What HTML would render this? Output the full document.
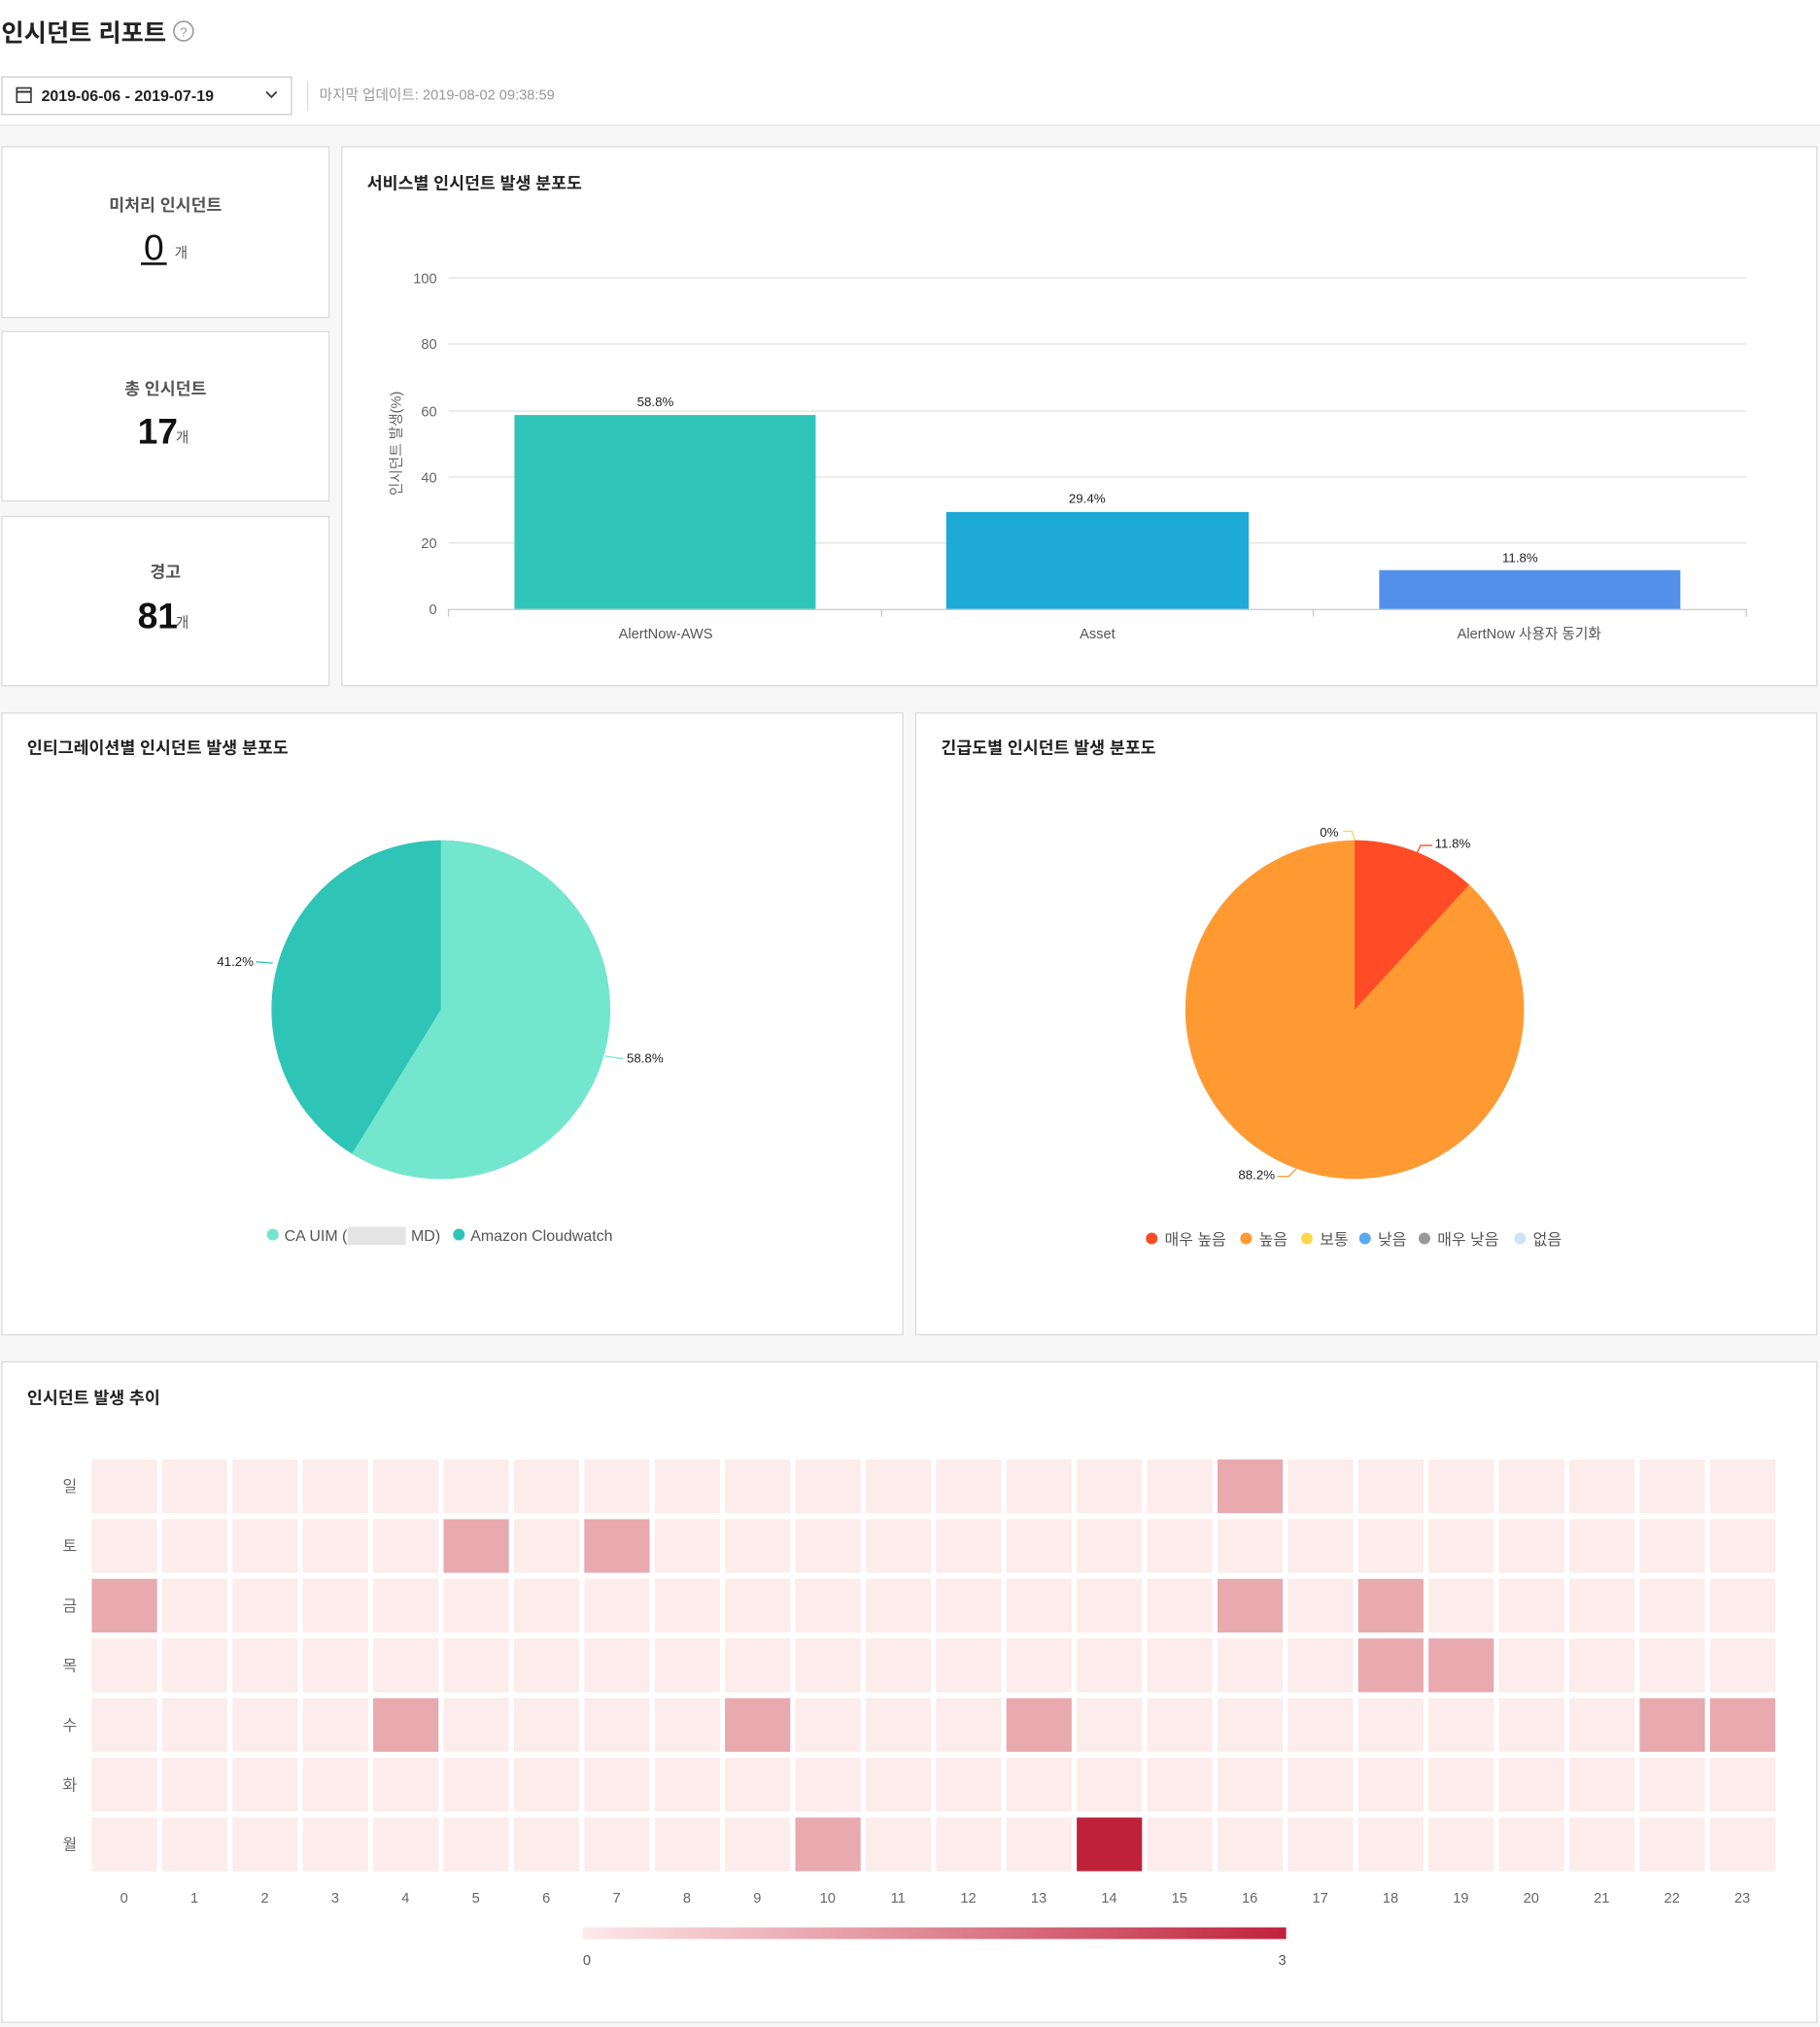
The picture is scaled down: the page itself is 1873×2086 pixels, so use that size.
<!DOCTYPE html>
<html><head><meta charset="utf-8"><style>
html,body{margin:0;padding:0;background:#fff;}
svg{display:block;font-family:"Liberation Sans","Noto Sans CJK KR",sans-serif;}
</style></head><body>
<svg width="1873" height="2086" viewBox="0 0 1408 1568" xmlns="http://www.w3.org/2000/svg">
<rect x="0" y="0" width="1408" height="1568" fill="#fff"/>
<rect x="0" y="97" width="1408" height="1471" fill="#f7f7f7"/>
<line x1="0" y1="97" x2="1408" y2="97" stroke="#e6e6e6"/>
<!-- header -->
<text x="1" y="32" font-size="19" font-weight="bold" fill="#222">인시던트 리포트</text>
<circle cx="142" cy="24" r="7.5" fill="none" stroke="#999" stroke-width="1.2"/>
<text x="142" y="28" font-size="10" fill="#999" text-anchor="middle">?</text>
<rect x="1.5" y="59.5" width="224" height="29" fill="#fff" stroke="#ccc"/>
<rect x="13" y="68" width="11" height="11" fill="none" stroke="#333" stroke-width="1.2"/>
<line x1="13" y1="71" x2="24" y2="71" stroke="#333" stroke-width="1.5"/>
<text x="32" y="78" font-size="12" font-weight="bold" fill="#222">2019-06-06 - 2019-07-19</text>
<polyline points="206,71 210,75 214,71" fill="none" stroke="#333" stroke-width="1.3"/>
<line x1="238" y1="63" x2="238" y2="86" stroke="#ddd"/>
<text x="247" y="77" font-size="11" fill="#999">마지막 업데이트: 2019-08-02 09:38:59</text>
<!-- stat cards -->
<g fill="#fff" stroke="#dcdcdc">
<rect x="1.5" y="113.5" width="253" height="132"/>
<rect x="1.5" y="256.5" width="253" height="131"/>
<rect x="1.5" y="399.5" width="253" height="131"/>
<rect x="264.5" y="113.5" width="1141" height="417"/>
<rect x="1.5" y="551.5" width="697" height="481"/>
<rect x="708.5" y="551.5" width="697" height="481"/>
<rect x="1.5" y="1053.5" width="1404" height="511"/>
</g>
<g text-anchor="middle" fill="#555" font-size="13" font-weight="bold">
<text x="128" y="163">미처리 인시던트</text>
<text x="128" y="305">총 인시던트</text>
<text x="128" y="447">경고</text>
</g>
<text x="119" y="201" font-size="28" fill="#111" text-anchor="middle">0</text>
<line x1="109" y1="204" x2="129" y2="204" stroke="#111" stroke-width="2"/>
<text x="135" y="199" font-size="11" fill="#555">개</text>
<text x="122" y="343" font-size="28" font-weight="bold" fill="#111" text-anchor="middle">17</text>
<text x="136" y="342" font-size="11" fill="#555">개</text>
<text x="122" y="486" font-size="28" font-weight="bold" fill="#111" text-anchor="middle">81</text>
<text x="136" y="485" font-size="11" fill="#555">개</text>
<!-- bar chart -->
<text x="284" y="146" font-size="13" font-weight="bold" fill="#222">서비스별 인시던트 발생 분포도</text>
<g stroke="#e3e3e3">
<line x1="347" y1="215" x2="1351" y2="215"/>
<line x1="347" y1="266" x2="1351" y2="266"/>
<line x1="347" y1="318" x2="1351" y2="318"/>
<line x1="347" y1="369" x2="1351" y2="369"/>
<line x1="347" y1="420" x2="1351" y2="420"/>
</g>
<line x1="347" y1="471.5" x2="1351" y2="471.5" stroke="#ccc"/>
<g stroke="#ccc"><line x1="347" y1="471" x2="347" y2="477"/><line x1="682" y1="471" x2="682" y2="477"/><line x1="1016" y1="471" x2="1016" y2="477"/><line x1="1351" y1="471" x2="1351" y2="477"/></g>
<g font-size="11" fill="#666" text-anchor="end">
<text x="338" y="219">100</text><text x="338" y="270">80</text><text x="338" y="322">60</text>
<text x="338" y="373">40</text><text x="338" y="424">20</text><text x="338" y="475">0</text>
</g>
<text transform="translate(310,343) rotate(-90)" font-size="11" fill="#666" text-anchor="middle">인시던트 발생(%)</text>
<rect x="398" y="321" width="233" height="150" fill="#2fc5b9"/>
<rect x="732" y="396" width="234" height="75" fill="#1daad6"/>
<rect x="1067" y="441" width="233" height="30" fill="#5290ec"/>
<g font-size="10" fill="#222" text-anchor="middle">
<text x="507" y="314">58.8%</text><text x="841" y="389">29.4%</text><text x="1176" y="435">11.8%</text>
</g>
<g font-size="11" fill="#555" text-anchor="middle">
<text x="515" y="494">AlertNow-AWS</text><text x="849" y="494">Asset</text><text x="1183" y="494">AlertNow 사용자 동기화</text>
</g>
<!-- pie 1 -->
<text x="21" y="583" font-size="13" font-weight="bold" fill="#222">인티그레이션별 인시던트 발생 분포도</text>
<circle cx="341" cy="781" r="131" fill="#2ec4b6"/>
<path d="M341,781 L341,650 A131,131 0 1,1 272.2,892.5 Z" fill="#73e6ce"/>
<polyline points="211,745 198,744" fill="none" stroke="#2ec4b6"/>
<polyline points="468,817 482,819" fill="none" stroke="#73e6ce"/>
<text x="182" y="747" font-size="10" fill="#222" text-anchor="middle">41.2%</text>
<text x="499" y="822" font-size="10" fill="#222" text-anchor="middle">58.8%</text>
<circle cx="211" cy="955" r="4.5" fill="#73e6ce"/>
<text x="220" y="960" font-size="12" fill="#555">CA UIM (</text>
<rect x="269" y="949" width="45" height="14" fill="#e4e4e4"/>
<text x="318" y="960" font-size="12" fill="#555">MD)</text>
<circle cx="355" cy="955" r="4.5" fill="#2ec4b6"/>
<text x="364" y="960" font-size="12" fill="#555">Amazon Cloudwatch</text>
<!-- pie 2 -->
<text x="728" y="583" font-size="13" font-weight="bold" fill="#222">긴급도별 인시던트 발생 분포도</text>
<circle cx="1048" cy="781" r="131" fill="#ff9a33"/>
<path d="M1048,781 L1048,650 A131,131 0 0,1 1136.5,684.4 Z" fill="#ff4b26"/>
<polyline points="1048,650 1046,643 1039,643" fill="none" stroke="#ffd64a"/>
<polyline points="1093,666 1099,654 1108,654" fill="none" stroke="#ff4b26"/>
<polyline points="1003,904 997,910 988,910" fill="none" stroke="#ff9a33"/>
<g font-size="10" fill="#222">
<text x="1021" y="647">0%</text><text x="1110" y="656">11.8%</text><text x="958" y="912">88.2%</text>
</g>
<g font-size="12" fill="#555">
<circle cx="891" cy="958" r="4.5" fill="#ff4b26"/><text x="901" y="963">매우 높음</text>
<circle cx="964" cy="958" r="4.5" fill="#ff9a33"/><text x="974" y="963">높음</text>
<circle cx="1011" cy="958" r="4.5" fill="#ffd64a"/><text x="1021" y="963">보통</text>
<circle cx="1056" cy="958" r="4.5" fill="#5aa9f0"/><text x="1066" y="963">낮음</text>
<circle cx="1102" cy="958" r="4.5" fill="#999"/><text x="1112" y="963">매우 낮음</text>
<circle cx="1176" cy="958" r="4.5" fill="#cfe3f5"/><text x="1186" y="963">없음</text>
</g>
<!-- heatmap -->
<text x="21" y="1086" font-size="13" font-weight="bold" fill="#222">인시던트 발생 추이</text>
<g id="hm"></g>
<defs><linearGradient id="g" x1="0" x2="1"><stop offset="0" stop-color="#fde9ea"/><stop offset="1" stop-color="#c0213a"/></linearGradient></defs>
<rect x="451" y="1491" width="544" height="9" fill="url(#g)"/>
<text x="454" y="1520" font-size="11" fill="#555" text-anchor="middle">0</text>
<text x="992" y="1520" font-size="11" fill="#555" text-anchor="middle">3</text>
<script>
(function(){
var ns="http://www.w3.org/2000/svg",g=document.getElementById("hm");
var days=["일","토","금","목","수","화","월"];
var med={"0":[16],"1":[5,7],"2":[0,16,18],"3":[18,19],"4":[4,9,13,22,23],"5":[],"6":[10]};
for(var r=0;r<7;r++){
 var y=1129+r*46.17;
 var t=document.createElementNS(ns,"text");t.setAttribute("x",54);t.setAttribute("y",y+25);
 t.setAttribute("font-size","12");t.setAttribute("fill","#666");t.setAttribute("text-anchor","middle");t.textContent=days[r];g.appendChild(t);
 for(var c=0;c<24;c++){
  var x=71+c*54.43,col="#fdecec";
  if(med[r].indexOf(c)>=0)col="#e8a9af";
  if(r==6&&c==14)col="#c0213a";
  var e=document.createElementNS(ns,"rect");e.setAttribute("x",x);e.setAttribute("y",y);
  e.setAttribute("width",50.5);e.setAttribute("height",41.5);e.setAttribute("fill",col);g.appendChild(e);
 }
}
for(var c=0;c<24;c++){
 var t=document.createElementNS(ns,"text");t.setAttribute("x",96+c*54.43);t.setAttribute("y",1472);
 t.setAttribute("font-size","11");t.setAttribute("fill","#666");t.setAttribute("text-anchor","middle");t.textContent=c;g.appendChild(t);
}
})();
</script>
</svg>
</body></html>
